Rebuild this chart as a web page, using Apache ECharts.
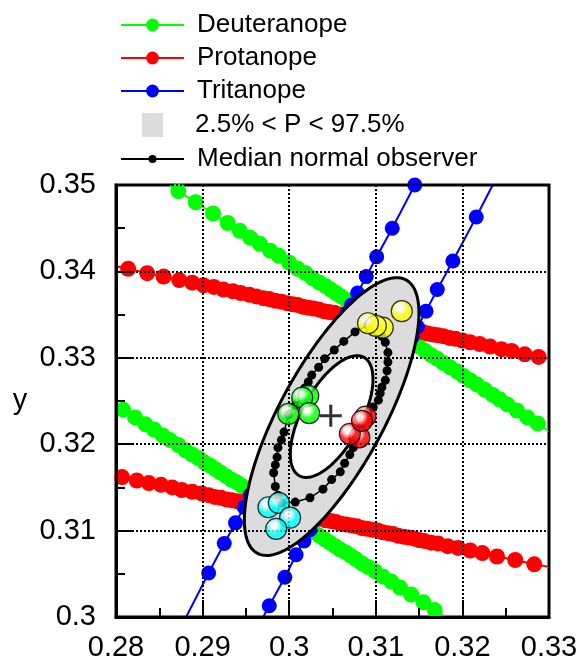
<!DOCTYPE html>
<html>
<head>
<meta charset="utf-8">
<script src="https://cdn.jsdelivr.net/npm/echarts@6/dist/echarts.min.js"></script>
<style>
    html, body { margin: 0; padding: 0; background: #fff; }
    #chart { width: 581px; height: 666px; }
</style>
</head>
<body>
<div id="chart"></div>
<script>
    var FONT = 'Liberation Sans, Arial, sans-serif';

    // x axis / y axis ticks
    var xTicks = [0.28, 0.29, 0.30, 0.31, 0.32, 0.33];
    var yTicks = [0.30, 0.31, 0.32, 0.33, 0.34, 0.35];

    // confusion lines: ends = where the line meets the frame, dots = plotted points
    var deut1Ends = [[0.2861, 0.3500], [0.3300, 0.3215]];
    var deut1Dots = [[0.2872,0.3493],[0.2892,0.3480],[0.2912,0.3467],[0.2929,0.3456],[0.2943,0.3447],[0.2955,0.3439],[0.2966,0.3432],[0.2978,0.3424],[0.2988,0.3418],[0.3000,0.3410],[0.3010,0.3403],[0.3019,0.3398],[0.3027,0.3392],[0.3035,0.3387],[0.3042,0.3383],[0.3048,0.3379],[0.3054,0.3375],[0.3060,0.3371],[0.3066,0.3367],[0.3072,0.3363],[0.3078,0.3359],[0.3084,0.3355],[0.3090,0.3351],[0.3096,0.3348],[0.3102,0.3344],[0.3108,0.3340],[0.3114,0.3336],[0.3120,0.3332],[0.3126,0.3328],[0.3132,0.3324],[0.3138,0.3320],[0.3144,0.3316],[0.3150,0.3313],[0.3157,0.3308],[0.3164,0.3303],[0.3171,0.3299],[0.3178,0.3294],[0.3186,0.3289],[0.3194,0.3284],[0.3201,0.3279],[0.3209,0.3274],[0.3217,0.3269],[0.3226,0.3263],[0.3235,0.3257],[0.3243,0.3252],[0.3252,0.3246],[0.3263,0.3239],[0.3275,0.3231],[0.3287,0.3224]];

    var deut2Ends = [[0.2800, 0.3245], [0.3181, 0.3000]];
    var deut2Dots = [[0.2808,0.3240],[0.2822,0.3231],[0.2834,0.3223],[0.2844,0.3217],[0.2854,0.3210],[0.2862,0.3205],[0.2872,0.3199],[0.2880,0.3193],[0.2888,0.3188],[0.2895,0.3184],[0.2902,0.3179],[0.2909,0.3175],[0.2915,0.3171],[0.2921,0.3167],[0.2927,0.3163],[0.2933,0.3159],[0.2939,0.3156],[0.2945,0.3152],[0.2951,0.3148],[0.2957,0.3144],[0.2963,0.3140],[0.2969,0.3136],[0.2975,0.3132],[0.2981,0.3129],[0.2987,0.3125],[0.2993,0.3121],[0.2999,0.3117],[0.3005,0.3113],[0.3011,0.3109],[0.3017,0.3105],[0.3023,0.3102],[0.3029,0.3098],[0.3035,0.3094],[0.3041,0.3090],[0.3047,0.3086],[0.3053,0.3082],[0.3059,0.3078],[0.3065,0.3075],[0.3071,0.3071],[0.3077,0.3067],[0.3084,0.3062],[0.3091,0.3058],[0.3099,0.3053],[0.3108,0.3047],[0.3118,0.3041],[0.3128,0.3034],[0.3141,0.3026],[0.3155,0.3017],[0.3168,0.3008]];

    var prot1Ends = [[0.2800, 0.3406], [0.3300, 0.3299]];
    var prot1Dots = [[0.2814,0.3403],[0.2836,0.3398],[0.2855,0.3394],[0.2873,0.3390],[0.2888,0.3387],[0.2901,0.3384],[0.2913,0.3382],[0.2924,0.3379],[0.2935,0.3377],[0.2944,0.3375],[0.2954,0.3373],[0.2962,0.3371],[0.2970,0.3369],[0.2977,0.3368],[0.2984,0.3366],[0.2991,0.3365],[0.2998,0.3363],[0.3004,0.3362],[0.3010,0.3361],[0.3016,0.3359],[0.3022,0.3358],[0.3028,0.3357],[0.3034,0.3356],[0.3040,0.3354],[0.3046,0.3353],[0.3052,0.3352],[0.3058,0.3350],[0.3064,0.3349],[0.3070,0.3348],[0.3076,0.3347],[0.3082,0.3345],[0.3088,0.3344],[0.3094,0.3343],[0.3100,0.3341],[0.3106,0.3340],[0.3112,0.3339],[0.3118,0.3338],[0.3124,0.3336],[0.3130,0.3335],[0.3136,0.3334],[0.3142,0.3332],[0.3148,0.3331],[0.3154,0.3330],[0.3160,0.3328],[0.3166,0.3327],[0.3172,0.3326],[0.3178,0.3325],[0.3185,0.3323],[0.3192,0.3322],[0.3200,0.3320],[0.3209,0.3318],[0.3220,0.3316],[0.3232,0.3313],[0.3245,0.3310],[0.3257,0.3308],[0.3272,0.3304],[0.3288,0.3301]];

    var prot2Ends = [[0.2800, 0.3164], [0.3300, 0.3058]];
    var prot2Dots = [[0.2807,0.3162],[0.2824,0.3158],[0.2838,0.3155],[0.2852,0.3153],[0.2865,0.3150],[0.2876,0.3147],[0.2888,0.3145],[0.2899,0.3143],[0.2907,0.3141],[0.2914,0.3139],[0.2921,0.3138],[0.2928,0.3136],[0.2934,0.3135],[0.2940,0.3134],[0.2946,0.3133],[0.2952,0.3131],[0.2958,0.3130],[0.2964,0.3129],[0.2970,0.3128],[0.2976,0.3126],[0.2982,0.3125],[0.2988,0.3124],[0.2994,0.3122],[0.3000,0.3121],[0.3006,0.3120],[0.3012,0.3119],[0.3018,0.3117],[0.3024,0.3116],[0.3030,0.3115],[0.3036,0.3114],[0.3042,0.3112],[0.3048,0.3111],[0.3054,0.3110],[0.3060,0.3108],[0.3066,0.3107],[0.3072,0.3106],[0.3078,0.3105],[0.3084,0.3103],[0.3090,0.3102],[0.3096,0.3101],[0.3102,0.3100],[0.3108,0.3098],[0.3114,0.3097],[0.3120,0.3096],[0.3126,0.3094],[0.3132,0.3093],[0.3138,0.3092],[0.3144,0.3091],[0.3150,0.3089],[0.3156,0.3088],[0.3164,0.3086],[0.3172,0.3085],[0.3183,0.3082],[0.3195,0.3080],[0.3209,0.3077],[0.3223,0.3074],[0.3240,0.3070],[0.3261,0.3066],[0.3283,0.3061]];

    var trit1Ends = [[0.2881, 0.3000], [0.3145, 0.3500]];
    var trit1Dots = [[0.2907,0.3051],[0.2925,0.3085],[0.2938,0.3109],[0.2948,0.3127],[0.2955,0.3141],[0.2961,0.3153],[0.2967,0.3164],[0.2973,0.3174],[0.2978,0.3184],[0.2983,0.3194],[0.2988,0.3204],[0.2994,0.3214],[0.2999,0.3224],[0.3004,0.3234],[0.3010,0.3244],[0.3015,0.3254],[0.3020,0.3264],[0.3026,0.3274],[0.3031,0.3284],[0.3036,0.3294],[0.3041,0.3304],[0.3047,0.3314],[0.3052,0.3324],[0.3057,0.3334],[0.3062,0.3343],[0.3067,0.3352],[0.3072,0.3361],[0.3079,0.3375],[0.3089,0.3394],[0.3101,0.3417],[0.3119,0.3450],[0.3145,0.3500]];

    var trit2Ends = [[0.2970, 0.3000], [0.3235, 0.3500]];
    var trit2Dots = [[0.2977,0.3013],[0.2995,0.3046],[0.3008,0.3072],[0.3017,0.3088],[0.3024,0.3101],[0.3030,0.3113],[0.3036,0.3124],[0.3041,0.3134],[0.3046,0.3144],[0.3052,0.3154],[0.3057,0.3164],[0.3062,0.3174],[0.3068,0.3184],[0.3073,0.3194],[0.3078,0.3204],[0.3084,0.3214],[0.3089,0.3224],[0.3094,0.3234],[0.3100,0.3244],[0.3105,0.3254],[0.3110,0.3264],[0.3115,0.3274],[0.3121,0.3284],[0.3126,0.3294],[0.3131,0.3304],[0.3137,0.3314],[0.3142,0.3324],[0.3148,0.3336],[0.3158,0.3354],[0.3171,0.3379],[0.3189,0.3412],[0.3216,0.3463]];

    // median normal observer loop
    var medianLoop = [[0.3091,0.3338],[0.3076,0.3330],[0.3063,0.3319],[0.3052,0.3309],[0.3041,0.3299],[0.3034,0.3289],[0.3026,0.3280],[0.3022,0.3272],[0.3018,0.3265],[0.3015,0.3255],[0.3007,0.3245],[0.2999,0.3234],[0.2994,0.3214],[0.2991,0.3205],[0.2987,0.3196],[0.2986,0.3185],[0.2984,0.3176],[0.2982,0.3167],[0.2984,0.3151],[0.2987,0.3141],[0.2992,0.3132],[0.3007,0.3133],[0.3024,0.3138],[0.3039,0.3148],[0.3049,0.3159],[0.3059,0.3168],[0.3064,0.3178],[0.3070,0.3188],[0.3074,0.3196],[0.3077,0.3207],[0.3082,0.3219],[0.3086,0.3230],[0.3091,0.3236],[0.3097,0.3243],[0.3103,0.3251],[0.3105,0.3259],[0.3107,0.3266],[0.3111,0.3274],[0.3113,0.3285],[0.3114,0.3295],[0.3114,0.3306],[0.3111,0.3318],[0.3107,0.3325],[0.3103,0.3335]];

    // 2.5% < P < 97.5% region: centre, outer / inner semi-axes, tilt (deg)
    var ellipseCenter = [0.3049, 0.3232];
    var outerAxes = [0.0180, 0.0060];
    var innerAxes = [0.0078, 0.0034];
    var ellipseAngle = 61.5;

    // individual observers
    var yellowPts = [[0.3108,0.3335],[0.3100,0.3337],[0.3091,0.3340],[0.3130,0.3354]];
    var greenPts = [[0.3022,0.3256],[0.3015,0.3254],[0.2999,0.3235],[0.3023,0.3236]];
    var redPts = [[0.3081,0.3208],[0.3070,0.3212],[0.3088,0.3232],[0.3084,0.3227]];
    var cyanPts = [[0.2976,0.3127],[0.2988,0.3132],[0.3001,0.3115],[0.2985,0.3102]];
    var meanPt = [[0.3048,0.3233]];

    function lineData(ends, dots) {
        var d = [{ value: ends[0], symbol: 'none' }];
        dots.forEach(function (p) { d.push(p); });
        d.push({ value: ends[1], symbol: 'none' });
        return d;
    }

    function confusion(name, ends, dots, color, size) {
        return {
            name: name,
            type: 'line',
            data: lineData(ends, dots),
            symbol: 'circle',
            symbolSize: size,
            showSymbol: true,
            itemStyle: { color: color },
            lineStyle: { color: color, width: 2 },
            z: 1,
            silent: true
        };
    }

    function ball(main, dark) {
        return {
            type: 'radial', x: 0.4, y: 0.35, r: 0.75,
            colorStops: [
                { offset: 0, color: '#ffffff' },
                { offset: 0.18, color: '#ffffff' },
                { offset: 0.5, color: main },
                { offset: 0.8, color: main },
                { offset: 1, color: dark }
            ]
        };
    }

    function balls(pts, main, dark) {
        return {
            type: 'scatter',
            data: pts,
            symbolSize: 21,
            itemStyle: { color: ball(main, dark), borderColor: '#000', borderWidth: 1.2 },
            z: 5,
            silent: true
        };
    }

    var loopData = medianLoop.concat([medianLoop[0]]);

    var chart = echarts.init(document.getElementById('chart'));

    function legendText(pad) {
        return { fontSize: 26, lineHeight: 30, fontFamily: FONT, color: '#000', padding: [0, 0, 0, pad] };
    }

    var option = {
        animation: false,
        backgroundColor: '#fff',
        grid: {
            left: 116, right: 32, top: 185, bottom: 49,
            show: true, borderColor: '#000', borderWidth: 3,
            outerBoundsMode: 'none'
        },
        legend: [
            {
                data: ['Deuteranope', 'Protanope', 'Tritanope'],
                orient: 'vertical', left: 120, top: 10, padding: 0,
                itemWidth: 63, itemHeight: 16, itemGap: 3,
                selectedMode: false, textStyle: legendText(8)
            },
            {
                data: [{ name: '2.5% < P < 97.5%', icon: 'path://M0,0h21v24h-21z', itemStyle: { color: '#dcdcdc', borderWidth: 0 } }],
                orient: 'vertical', left: 142, top: 110, padding: 0,
                itemWidth: 63, itemHeight: 24,
                selectedMode: false, textStyle: legendText(6)
            },
            {
                data: ['Median normal observer'],
                orient: 'vertical', left: 120, top: 144, padding: 0,
                itemWidth: 63, itemHeight: 10,
                selectedMode: false, textStyle: legendText(8)
            }
        ],
        xAxis: {
            type: 'value',
            min: xTicks[0], max: xTicks[xTicks.length - 1], interval: 0.01,
            z: 3,
            axisLine: { show: true, onZero: false, lineStyle: { color: '#000', width: 3 } },
            axisTick: { show: true, inside: true, length: 17, lineStyle: { color: '#000', width: 2 } },
            minorTick: { show: true, splitNumber: 2, length: 9, lineStyle: { color: '#000', width: 2 } },
            splitLine: { show: true, lineStyle: { color: '#000', width: 2, type: [2, 2] } },
            axisLabel: { fontSize: 29, fontFamily: FONT, color: '#000', margin: 16 }
        },
        yAxis: {
            type: 'value',
            min: yTicks[0], max: yTicks[yTicks.length - 1], interval: 0.01,
            z: 3,
            name: 'y',
            nameLocation: 'middle',
            nameRotate: 0,
            nameGap: 96,
            nameTextStyle: { fontSize: 29, fontFamily: FONT, color: '#000', align: 'center', verticalAlign: 'middle', padding: [6, 0, 0, 0] },
            axisLine: { show: true, onZero: false, lineStyle: { color: '#000', width: 3 } },
            axisTick: { show: true, inside: true, length: 17, lineStyle: { color: '#000', width: 2 } },
            minorTick: { show: true, splitNumber: 2, length: 9, lineStyle: { color: '#000', width: 2 } },
            splitLine: { show: true, lineStyle: { color: '#000', width: 2, type: [2, 2] } },
            axisLabel: { fontSize: 29, fontFamily: FONT, color: '#000', margin: 20 }
        },
        series: [
            confusion('Deuteranope', deut1Ends, deut1Dots, '#00ff00', 16),
            confusion('Deuteranope', deut2Ends, deut2Dots, '#00ff00', 16),
            confusion('Protanope', prot1Ends, prot1Dots, '#ff0000', 16),
            confusion('Protanope', prot2Ends, prot2Dots, '#ff0000', 16),
            confusion('Tritanope', trit1Ends, trit1Dots, '#0000ff', 15),
            confusion('Tritanope', trit2Ends, trit2Dots, '#0000ff', 15),
            {
                name: '2.5% < P < 97.5%',
                type: 'custom',
                z: 2,
                silent: true,
                itemStyle: { color: '#dcdcdc' },
                data: [[ellipseCenter[0], ellipseCenter[1], outerAxes[0], outerAxes[1], innerAxes[0], innerAxes[1], ellipseAngle]],
                encode: { x: 0, y: 1 },
                renderItem: function (params, api) {
                    var cx = api.value(0), cy = api.value(1);
                    var th = api.value(6) * Math.PI / 180;
                    function outline(a, b) {
                        var pts = [];
                        for (var k = 0; k < 180; k++) {
                            var t = k / 180 * 2 * Math.PI;
                            var dx = a * Math.cos(t), dy = b * Math.sin(t);
                            pts.push(api.coord([cx + dx * Math.cos(th) - dy * Math.sin(th),
                                                cy + dx * Math.sin(th) + dy * Math.cos(th)]));
                        }
                        return pts;
                    }
                    return {
                        type: 'group',
                        children: [
                            { type: 'polygon', shape: { points: outline(api.value(2), api.value(3)) },
                              style: { fill: '#dcdcdc', stroke: '#000', lineWidth: 3 } },
                            { type: 'polygon', shape: { points: outline(api.value(4), api.value(5)) },
                              style: { fill: '#fff', stroke: '#000', lineWidth: 3 } }
                        ]
                    };
                }
            },
            {
                name: 'Median normal observer',
                type: 'line',
                data: loopData,
                symbol: 'circle',
                symbolSize: 9,
                itemStyle: { color: '#000' },
                lineStyle: { color: '#000', width: 1.5 },
                z: 4,
                silent: true
            },
            balls(yellowPts, '#ffff00', '#8c8c00'),
            balls(greenPts, '#00ff00', '#008000'),
            balls(redPts, '#ff0000', '#8c0000'),
            balls(cyanPts, '#00ffff', '#008c8c'),
            {
                type: 'scatter',
                data: meanPt,
                symbol: 'path://M9.4,0h3v9.4h9.4v3h-9.4v9.4h-3v-9.4h-9.4v-3h9.4z',
                symbolSize: 22,
                itemStyle: { color: '#000' },
                z: 5,
                silent: true
            }
        ]
    };

    chart.setOption(option);

    window.onresize = function () {
        chart.resize();
    };
</script>
</body>
</html>
